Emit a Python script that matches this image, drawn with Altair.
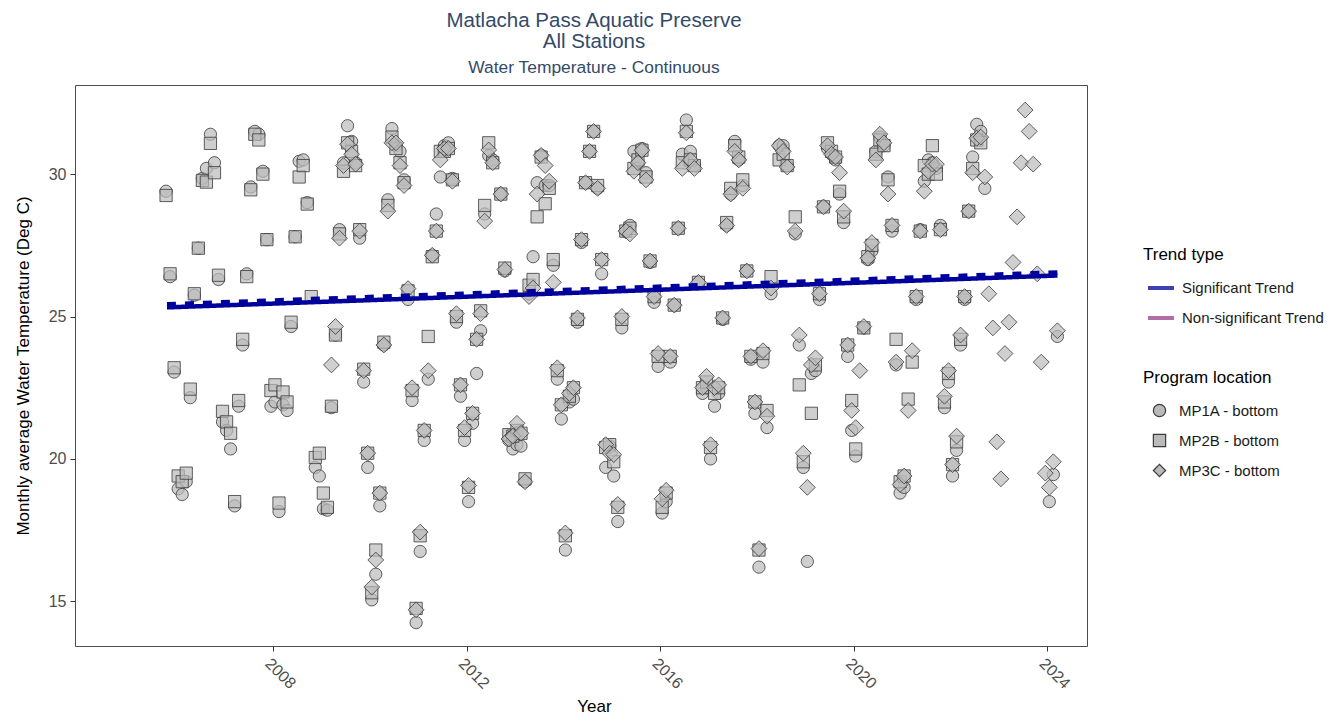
import altair as alt
import pandas as pd

FONT = "Liberation Sans"
LOCS = ["MP1A - bottom", "MP2B - bottom", "MP3C - bottom"]
TRENDS = ["Significant Trend", "Non-significant Trend"]

# Monthly averages, MP1A starts Oct 2005 (one row per calendar year)
MP1A = (
    [29.4, 26.4, 23.05]
    + [18.95, 18.75, 19.2, 22.15, 25.75, 27.4, 29.85, 30.2, 31.4, 30.4, 26.3, 21.3]
    + [21.0, 20.35, 18.35, 21.85, 24.0, 26.5, 29.55, 31.5, 31.4, 30.1, 27.7, 21.85]
    + [22.0, 18.15, 21.9, 21.7, 24.65, 27.8, 30.45, 30.5, 29.0, None, 19.7, 19.4]
    + [18.25, 18.2, 21.8, 24.35, 28.05, 30.4, 31.7, 31.15, 30.4, 27.75, 22.7, 19.7]
    + [15.05, 15.95, 18.35, 24.0, 29.1, 31.6, 31.0, 30.8, 29.8, 25.6, 22.05, 14.25]
    + [16.75, 20.65, 22.8, 27.15, 28.6, 29.9, 31.0, 31.1, 29.85, 24.8, 22.2, 20.65]
    + [18.5, 21.25, 23.0, 24.5, 28.6, 30.65, 30.5, None, 29.3, 26.6, 20.65, 20.35]
    + [20.5, 20.45, 19.2, 25.8, 27.1, 29.7, 30.66, 29.6, 29.6, 26.8, 22.8, 21.4]
    + [16.8, 22.0, 22.1, 24.8, 27.6, 29.7, 30.8, 31.5, 29.5, 26.5, 19.7, 20.45]
    + [19.4, 17.8, 24.6, 28.0, 28.2, 30.8, 30.4, 30.9, 30.05, 26.9, 25.5, 23.25]
    + [18.1, 18.5, 23.4, 25.4, 28.1, 30.7, 31.9, 30.8, 30.3, 26.2, 22.3, 22.5]
    + [20.0, 21.85, 22.3, 24.9, 28.2, 29.3, 31.15, 30.5, 29.6, 26.6, 23.5, 21.6]
    + [16.2, 23.4, 21.1, 25.8, None, 31.0, 31.0, 30.3, None, 27.9, 24.0, 19.7]
    + [16.4, 23.0, 23.1, 25.6, 28.85, 30.9, 30.7, 30.5, 29.3, 28.3, 23.6, 21.0]
    + [20.1, None, 24.6, 27.0, 27.3, 30.8, 31.3, 31.0, 29.9, 28.0, 23.3, 18.8]
    + [19.0, None, None, 25.6, 28.05, 29.75, 30.5, 30.4, 30.2, 28.2, 21.8, 22.7]
    + [19.4, 20.3, 24.0, 25.6, 28.7, 30.6, 31.75, 31.5, 29.5, None, None, None]
    + [None] * 12
    + [18.5, 19.45, 24.3]
)

# MP2B starts Oct 2005
MP2B = (
    [29.25, 26.5, 23.2]
    + [19.4, 19.2, 19.5, 22.45, 25.8, 27.4, 29.78, 29.72, 31.08, 30.05, 26.45, 21.67]
    + [21.3, 20.9, 18.5, 22.05, 24.2, 26.4, 29.45, 31.4, 31.2, 30.0, 27.7, 22.4]
    + [22.6, 18.45, 22.35, 22.0, 24.8, 27.8, 29.9, 30.3, 28.95, 25.7, 20.05, 20.2]
    + [18.8, 18.3, 21.85, 24.35, 27.9, 30.1, 31.1, 30.8, 30.3, 28.05, 23.15, 20.2]
    + [15.3, 16.8, 18.8, 24.1, 28.9, 31.3, 30.9, 30.4, 29.7, 25.9, 22.4, 14.75]
    + [17.3, 21.0, 24.3, 27.1, 28.0, 30.8, 30.8, 30.9, 29.8, 25.0, 22.6, 21.0]
    + [19.0, 21.6, 24.2, 25.2, 28.9, 31.1, 30.4, None, 29.3, 26.7, 20.85, 20.8]
    + [21.0, 20.9, 19.3, 26.1, 26.3, 28.5, 30.6, 28.96, 29.5, 27.0, 23.1, 21.9]
    + [17.3, 22.2, 22.5, 24.9, 27.7, 29.7, 30.8, 31.5, 29.6, 27.0, 20.4, 20.5]
    + [19.9, 18.3, 24.9, 28.0, 28.1, 30.2, 30.5, 30.84, 29.9, 26.95, 25.7, 23.6]
    + [18.3, 18.8, 23.6, 25.4, 28.1, 30.4, 31.5, 30.5, 30.3, 26.2, 22.5, 22.7]
    + [20.4, 22.3, 22.5, 24.95, 28.3, 29.5, 31.0, 30.6, 29.8, 26.6, 23.6, 22.0]
    + [16.8, 23.7, 21.7, 26.4, None, 30.5, 30.7, 30.3, None, 28.5, 22.6, 19.9]
    + [None, 21.6, 23.3, 25.8, 28.85, 31.1, 30.8, 30.6, 29.4, 28.5, 24.0, 22.05]
    + [20.35, None, 24.6, 27.1, 27.5, 30.7, 31.2, 31.0, 29.8, 28.2, 24.2, 19.2]
    + [19.4, 22.1, 23.4, 25.7, 28.0, 30.3, 30.0, 31.0, 30.0, 28.05, 22.0, 23.0]
    + [19.8, 20.6, 24.2, 25.7, 28.7, 30.2, 31.2, 31.1]
)

# MP3C starts Mar 2009
MP3C = (
    [23.3, 24.65, 27.75, 30.3, 31.05, 30.7, 30.35, 28.0, 23.1, 20.2]
    + [15.5, 16.45, 18.8, 24.0, 28.7, 31.1, 31.1, 30.3, 29.6, 25.98, 22.5, 14.7]
    + [17.43, 21.0, 23.1, 27.15, 28.0, 30.5, 30.9, 30.9, 29.75, 25.1, 22.6, 21.1]
    + [19.07, 21.6, 24.2, 25.1, 28.35, 30.85, 30.4, None, 29.3, 26.65, 20.7, 20.8]
    + [21.25, 20.9, 19.2, 25.7, 26.0, 29.3, 30.66, 30.3, 29.75, 26.2, 23.2, 21.9]
    + [17.4, 22.3, 22.5, 24.95, 27.7, 29.7, 30.8, 31.5, 29.5, 27.0, 20.5, 20.2]
    + [20.15, 18.4, 25.0, 28.0, 27.9, 30.1, 30.4, 30.84, 29.8, 26.95, 25.7, 23.7]
    + [18.6, 18.9, 23.6, 25.4, 28.1, 30.2, 31.45, 30.5, 30.2, 26.2, 22.5, 22.9]
    + [20.5, 22.5, 22.6, 24.95, 28.2, 29.3, 30.8, 30.5, 29.5, 26.6, 23.6, 22.0]
    + [16.85, 23.8, 21.5, 26.0, None, 31.0, 30.8, 30.25, None, 28.0, 24.35, 20.2]
    + [19.0, 23.3, 23.55, 25.8, 28.85, 31.0, 30.7, 30.6, 30.05, 28.7, 24.0, 21.7]
    + [21.1, 23.1, 24.65, 27.05, 27.6, 30.5, 31.4, 31.1, 29.3, 28.2, 23.4, 19.1]
    + [19.4, 21.7, 23.8, 25.7, 28.0, 29.4, 30.1, 30.35, 30.35, 28.05, 22.2, 23.1]
    + [19.8, 20.8, 24.35, 25.7, 28.7, 30.05, 31.26, 31.3, 29.9, 25.8, 24.6, 20.6]
    + [19.3, 23.7, 24.8, 26.9, 28.5, 30.4, 32.25, 31.5, 30.35, 26.5, 23.4, 19.5]
    + [19.0, 19.9, 24.5]
)

STARTS = {"MP1A - bottom": (2005, 10), "MP2B - bottom": (2005, 10), "MP3C - bottom": (2009, 3)}

# Trend lines (end points of fitted trend)
TREND_YEARS = [2005.81, 2024.21]
TREND_MP1A = [25.32, 26.44]
TREND_MP2B = [25.43, 26.55]

rows = []
for loc, vals in zip(LOCS, [MP1A, MP2B, MP3C]):
    y, m = STARTS[loc]
    for v in vals:
        if v is not None:
            rows.append({"Year": y + (m - 0.5) / 12, "Temp": v, "Location": loc})
        m += 1
        if m == 13:
            y, m = y + 1, 1
pts = pd.DataFrame(rows)

trows = []
for st, vals in [("MP1A", TREND_MP1A), ("MP2B", TREND_MP2B)]:
    for t, v in zip(TREND_YEARS, vals):
        trows.append({"Year": t, "Temp": v, "Station": st, "Trend": "Significant Trend"})
trend = pd.DataFrame(trows)

xenc = alt.X(
    "Year:Q",
    scale=alt.Scale(domain=[2003.91, 2024.82], nice=False, zero=False),
    axis=alt.Axis(values=[2008, 2012, 2016, 2020, 2024], format="d", labelAngle=45,
                  labelAlign="left", labelBaseline="top", titleX=519, titlePadding=7),
    title="Year",
)
yenc = alt.Y(
    "Temp:Q",
    scale=alt.Scale(domain=[13.43, 33.13], nice=False, zero=False),
    axis=alt.Axis(values=[15, 20, 25, 30], titlePadding=16),
    title="Monthly average Water Temperature (Deg C)",
)

points = alt.Chart(pts).transform_calculate(
    sz="datum.Location == 'MP3C - bottom' ? 250 : 150"
).mark_point(filled=True, strokeWidth=1, opacity=1).encode(
    x=xenc,
    y=yenc,
    shape=alt.Shape(
        "Location:N",
        scale=alt.Scale(domain=LOCS, range=["circle", "square", "diamond"]),
        legend=alt.Legend(
            title="Program location", orient="none", legendX=1068, legendY=285,
            symbolSize=150, symbolOffset=9, labelOffset=12, rowPadding=11, titlePadding=16,
            symbolStrokeWidth=1.2,
        ),
    ),
    size=alt.Size("sz:Q", scale=None),
    fill=alt.value("#bababa"),
    fillOpacity=alt.value(0.7),
    stroke=alt.value("#3a3a3a"),
    strokeOpacity=alt.value(0.8),
)

lines = alt.Chart(trend).mark_line(strokeWidth=4.5).encode(
    x="Year:Q",
    y="Temp:Q",
    color=alt.Color(
        "Trend:N",
        scale=alt.Scale(domain=TRENDS, range=["#00009c", "#9a3d8c"]),
        legend=alt.Legend(
            title="Trend type", orient="none", legendX=1068, legendY=162,
            symbolType="stroke", symbolStrokeWidth=4, symbolSize=676, symbolOpacity=0.75,
            symbolOffset=3, labelOffset=6, rowPadding=7, titlePadding=9,
        ),
    ),
    strokeDash=alt.StrokeDash(
        "Station:N",
        scale=alt.Scale(domain=["MP1A", "MP2B"], range=[[1, 0], [9, 9]]),
        legend=None,
    ),
    detail="Station:N",
)

chart = (
    alt.layer(points, lines)
    .properties(
        width=1012,
        height=561,
        autosize=alt.AutoSizeParams(type="none"),
        padding={"left": 67, "top": 77, "right": 245, "bottom": 69},
        title=alt.TitleParams(
            text=["Matlacha Pass Aquatic Preserve", "All Stations"],
            subtitle="Water Temperature - Continuous",
            font=FONT, subtitleFont=FONT, fontSize=20.5, subtitleFontSize=17.4,
            fontWeight="normal", color="#344a68", subtitleColor="#344a68",
            anchor="middle", dx=13, offset=9, lineHeight=21, subtitlePadding=6,
        ),
    )
    .configure(font=FONT)
    .configure_view(stroke="#4d4d4d", strokeWidth=1)
    .configure_axis(
        grid=False, domain=False, tickColor="#333333", tickSize=5, labelColor="#4d4d4d",
        labelFontSize=16, labelFont=FONT, titleFont=FONT, titleFontSize=17,
        titleFontWeight="normal", titleColor="#000000", labelPadding=4,
    )
    .configure_legend(
        titleFont=FONT, labelFont=FONT, titleFontSize=17, labelFontSize=15,
        titleFontWeight="normal", titleColor="#000000", labelColor="#1a1a1a", padding=0,
    )
)

chart.save("out.html", embed_options={"renderer": "svg", "actions": False})
